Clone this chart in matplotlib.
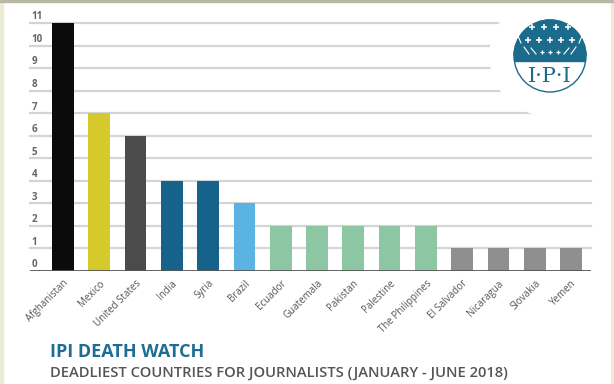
import numpy as np
import matplotlib
matplotlib.use("Agg")
import matplotlib.pyplot as plt
from matplotlib.patches import Circle, Rectangle, Wedge

plt.rcParams['font.family'] = ['Open Sans', 'DejaVu Sans']

# data
countries = ['Afghanistan', 'Mexico', 'United States', 'India', 'Syria', 'Brazil',
             'Ecuador', 'Guatemala', 'Pakistan', 'Palestine', 'The Philippines',
             'El Salvador', 'Nicaragua', 'Slovakia', 'Yemen']
deaths = [11, 7, 6, 4, 4, 3, 2, 2, 2, 2, 2, 1, 1, 1, 1]
bar_colors = ['#0b0b0b', '#d5c92b', '#4b4b4b', '#17628a', '#17628a', '#5bb3e4',
              '#8dc6a3', '#8dc6a3', '#8dc6a3', '#8dc6a3', '#8dc6a3',
              '#8f8f8f', '#8f8f8f', '#8f8f8f', '#8f8f8f']
y_ticks = list(range(0, 12))

W, H = 614, 384
fig = plt.figure(figsize=(W / 100, H / 100), dpi=100)
fig.patch.set_facecolor('white')

# main axes in pixel layout
ax = fig.add_axes([30 / W, 1 - 271 / H, 561 / W, 248 / H])
ax.set_facecolor('none')
x = np.arange(len(countries))
ax.bar(x, deaths, width=0.6, color=bar_colors, zorder=3)
ax.set_xlim(-0.909, 14.55)
ax.set_ylim(0, 11)

# gridlines + labels sitting above them
for v in y_ticks[1:]:
    ax.axhline(v, color='#d4d4d4', lw=1.6, zorder=1, clip_on=False)
ax.axhline(0, color='#555555', lw=2, zorder=4)
for v in y_ticks:
    ax.annotate(str(v), (0, v), xycoords=('axes fraction', 'data'),
                xytext=(1, 2.6), textcoords='offset points',
                ha='left', va='baseline', fontsize=7, color='#666666',
                fontweight='bold')

for s in ax.spines.values():
    s.set_visible(False)
ax.set_yticks([])
ax.set_xticks(x)
ax.set_xticklabels(countries, rotation=45, ha='right', rotation_mode='anchor',
                   fontsize=7, color='#555555')
ax.tick_params(axis='x', length=0, pad=5)

# logo (pixel-unit axes centred on the logo)
cy = 56
lax = fig.add_axes([470 / W, 1 - (cy + 80) / H, 160 / W, 160 / H])
lax.set_xlim(-80, 80)
lax.set_ylim(-80, 80)
lax.axis('off')
teal = '#1b6c8c'
R = 36
# white mask so the upper gridlines stop before the logo
lax.add_patch(Circle((0, 0), 60, color='white', zorder=1))
lax.add_patch(Rectangle((0, -68), 80, 150, color='white', zorder=1))
lax.add_patch(Circle((0, 0), R, facecolor='white', edgecolor=teal, lw=1, zorder=2))
lax.add_patch(Wedge((0, 0), R, 0, 180, color=teal, zorder=3))
seg = Rectangle((-R, -5), 2 * R, 5, color=teal, zorder=3)
lax.add_patch(seg)
seg.set_clip_path(Circle((0, 0), R, transform=lax.transData))
for cx in [-18, -6, 6, 18]:
    lax.plot(cx, 29, marker='+', color='white', ms=4.5, mew=1.1, zorder=4)
for cx in [-22, -11, 0, 11, 22]:
    lax.plot(cx, 16, marker='+', color='white', ms=4.5, mew=1.1, zorder=4)
for cx in [-8, 0, 8]:
    lax.plot(cx, 4, marker='+', color='white', ms=3, mew=0.9, zorder=4)
for sx in [-1, 1]:
    lax.plot([sx * 32, sx * 29], [20, 13], color='white', lw=0.8, zorder=4)
    lax.plot([sx * 19, sx * 14], [8, 2], color='white', lw=0.8, zorder=4)
    lax.plot([sx * 26, sx * 21], [9, 2], color='white', lw=0.8, zorder=4)
lax.text(0, -21, 'I·P·I', ha='center', va='center', fontsize=15,
         color=teal, family='DejaVu Serif', zorder=5)

# titles
fig.text(50 / W, 1 - 357 / H, 'IPI DEATH WATCH', fontsize=13,
         fontweight='bold', color='#1d6d94', ha='left', va='baseline')
fig.text(50 / W, 1 - 377 / H,
         'DEADLIEST COUNTRIES FOR JOURNALISTS (JANUARY - JUNE 2018)',
         fontsize=10.6, fontweight='semibold', color='#555555',
         ha='left', va='baseline')

# page border strips
fig.patches.append(Rectangle((0, 0), 3 / W, 1, transform=fig.transFigure,
                             color='#ecebd3', zorder=10))
fig.patches.append(Rectangle((611 / W, 0), 3 / W, 1, transform=fig.transFigure,
                             color='#ecebd3', zorder=10))
fig.patches.append(Rectangle((0, 1 - 2 / H), 1, 2 / H, transform=fig.transFigure,
                             color='#b8b8a4', zorder=10))

fig.savefig('out.png', dpi=100)
